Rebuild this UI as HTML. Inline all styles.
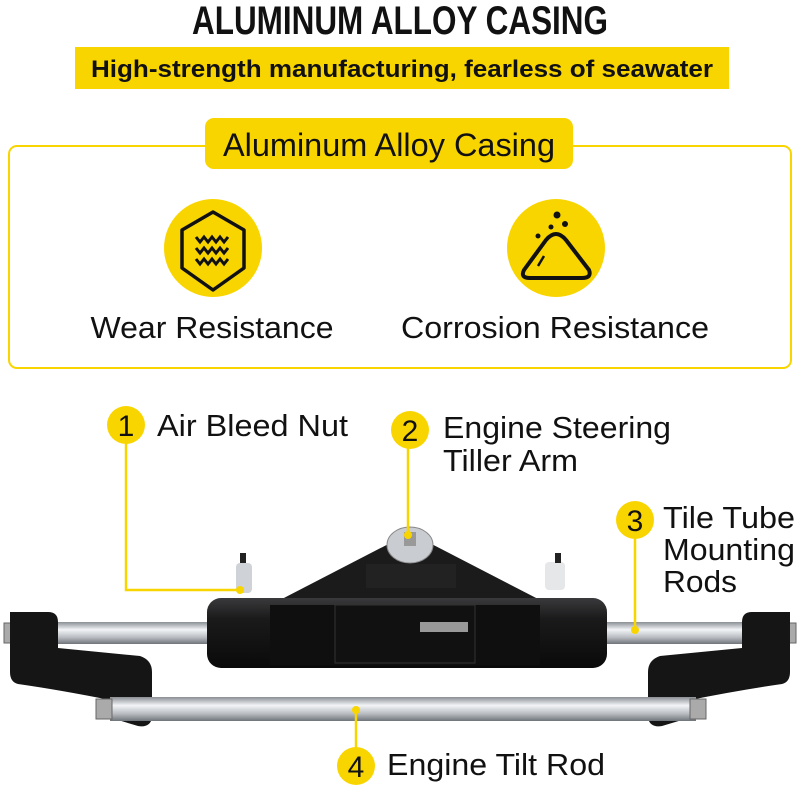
<!DOCTYPE html>
<html><head><meta charset="utf-8"><style>
html,body{margin:0;padding:0;background:#fff;}
svg{display:block}
text{font-family:"Liberation Sans",sans-serif;fill:#111}
</style></head><body>
<svg width="800" height="785" viewBox="0 0 800 785" xmlns="http://www.w3.org/2000/svg">
<defs>
<linearGradient id="rod" x1="0" y1="0" x2="0" y2="1">
<stop offset="0" stop-color="#8a8f95"/><stop offset="0.35" stop-color="#f2f4f6"/><stop offset="0.7" stop-color="#b8bcc1"/><stop offset="1" stop-color="#6f747a"/>
</linearGradient>
<linearGradient id="blk" x1="0" y1="0" x2="0" y2="1">
<stop offset="0" stop-color="#3a3a3c"/><stop offset="0.3" stop-color="#1a1a1b"/><stop offset="1" stop-color="#0a0a0a"/>
</linearGradient>
</defs>
<text x="400" y="34" text-anchor="middle" font-size="40" font-weight="bold" textLength="416" lengthAdjust="spacingAndGlyphs">ALUMINUM ALLOY CASING</text>
<rect x="75" y="47" width="654" height="42" fill="#f9d500"/>
<text x="402" y="77" text-anchor="middle" font-size="24" font-weight="bold" textLength="622" lengthAdjust="spacingAndGlyphs">High-strength manufacturing, fearless of seawater</text>
<rect x="9" y="146" width="782" height="222" rx="8" fill="none" stroke="#f9d500" stroke-width="2"/>
<rect x="205" y="118" width="368" height="51" rx="9" fill="#f9d500"/>
<text x="389" y="156" text-anchor="middle" font-size="32" textLength="332" lengthAdjust="spacingAndGlyphs">Aluminum Alloy Casing</text>
<circle cx="213" cy="248" r="49" fill="#f9d500"/>
<path d="M213 212 L244 230 L244 268 L213 290 L182 268 L182 230 Z" fill="none" stroke="#111" stroke-width="3.5" stroke-linejoin="round"/>
<g fill="none" stroke="#111" stroke-width="3">
<path d="M196 237 l4 5 l4-5 l4 5 l4-5 l4 5 l4-5 l4 5 l4-5"/>
<path d="M196 248 l4 5 l4-5 l4 5 l4-5 l4 5 l4-5 l4 5 l4-5"/>
<path d="M196 259 l4 5 l4-5 l4 5 l4-5 l4 5 l4-5 l4 5 l4-5"/>
</g>
<circle cx="556" cy="248" r="49" fill="#f9d500"/>
<path d="M546 240 Q556 228 566 240 L589 270 Q592 278 582 278 L530 278 Q520 278 524 270 Z" fill="none" stroke="#111" stroke-width="4" stroke-linejoin="round"/>
<line x1="544" y1="256" x2="538" y2="266" stroke="#111" stroke-width="2.5"/>
<circle cx="557" cy="215" r="3.5" fill="#111"/><circle cx="565" cy="224" r="3" fill="#111"/><circle cx="551" cy="227" r="2.5" fill="#111"/><circle cx="538" cy="236" r="2.5" fill="#111"/>
<text x="212" y="338" text-anchor="middle" font-size="31" textLength="243" lengthAdjust="spacingAndGlyphs">Wear Resistance</text>
<text x="555" y="338" text-anchor="middle" font-size="31" textLength="308" lengthAdjust="spacingAndGlyphs">Corrosion Resistance</text>
<!-- product -->
<rect x="10" y="622" width="780" height="22" fill="url(#rod)"/>
<rect x="4" y="623" width="12" height="20" fill="#aaa" stroke="#666"/>
<rect x="784" y="623" width="12" height="20" fill="#aaa" stroke="#666"/>
<path d="M280 600 L400 538 L420 538 L540 600 Z" fill="#1b1b1c"/>
<rect x="366" y="564" width="90" height="24" fill="#222"/>
<ellipse cx="410" cy="545" rx="23" ry="18" fill="#c9ccd0" stroke="#888"/>
<rect x="404" y="532" width="12" height="14" fill="#999"/>
<rect x="236" y="563" width="16" height="30" rx="4" fill="#cfd2d6"/>
<rect x="240" y="553" width="6" height="10" fill="#222"/>
<rect x="545" y="562" width="20" height="28" rx="4" fill="#e6e7e9"/>
<rect x="555" y="553" width="6" height="10" fill="#222"/>
<rect x="207" y="598" width="400" height="70" rx="14" fill="url(#blk)"/>
<rect x="270" y="605" width="270" height="60" fill="#0f0f10"/>
<rect x="335" y="605" width="140" height="58" fill="#111" stroke="#333"/>
<rect x="420" y="622" width="48" height="10" fill="#999"/>
<path d="M10 612 L48 612 Q58 612 58 622 L58 648 L140 656 Q152 660 152 672 L152 718 Q150 728 138 726 L118 720 L110 700 Q60 690 18 684 Q10 682 10 672 Z" fill="#151516"/>
<path d="M790 612 L752 612 Q742 612 742 622 L742 648 L660 656 Q648 660 648 672 L648 718 Q650 728 662 726 L682 720 L690 700 Q740 690 782 684 Q790 682 790 672 Z" fill="#151516"/>
<rect x="110" y="697" width="586" height="24" fill="url(#rod)"/>
<rect x="96" y="699" width="16" height="20" fill="#aaa" stroke="#666"/>
<rect x="690" y="699" width="16" height="20" fill="#aaa" stroke="#666"/>
<g stroke="#f9d500" stroke-width="2.5" fill="none">
<path d="M126 430 L126 590 L240 590"/>
<path d="M408 440 L408 535"/>
<path d="M635 530 L635 630"/>
<path d="M356 710 L356 760"/>
</g>
<circle cx="240" cy="590" r="4" fill="#f9d500"/>
<circle cx="408" cy="535" r="4" fill="#f9d500"/>
<circle cx="635" cy="630" r="4" fill="#f9d500"/>
<circle cx="356" cy="710" r="4" fill="#f9d500"/>
<g fill="#f9d500">
<circle cx="126" cy="425" r="19"/><circle cx="410" cy="430" r="19"/><circle cx="635" cy="520" r="19"/><circle cx="356" cy="766" r="19"/>
</g>
<g font-size="30" text-anchor="middle">
<text x="126" y="436">1</text><text x="410" y="441">2</text><text x="635" y="531">3</text><text x="356" y="777">4</text>
</g>
<g font-size="31">
<text x="157" y="436" textLength="191" lengthAdjust="spacingAndGlyphs">Air Bleed Nut</text>
<text x="443" y="438" textLength="228" lengthAdjust="spacingAndGlyphs">Engine Steering</text>
<text x="443" y="471" textLength="135" lengthAdjust="spacingAndGlyphs">Tiller Arm</text>
<text x="663" y="528" textLength="132" lengthAdjust="spacingAndGlyphs">Tile Tube</text>
<text x="663" y="560" textLength="132" lengthAdjust="spacingAndGlyphs">Mounting</text>
<text x="663" y="592" textLength="74" lengthAdjust="spacingAndGlyphs">Rods</text>
<text x="387" y="775" textLength="218" lengthAdjust="spacingAndGlyphs">Engine Tilt Rod</text>
</g>
</svg>
</body></html>
